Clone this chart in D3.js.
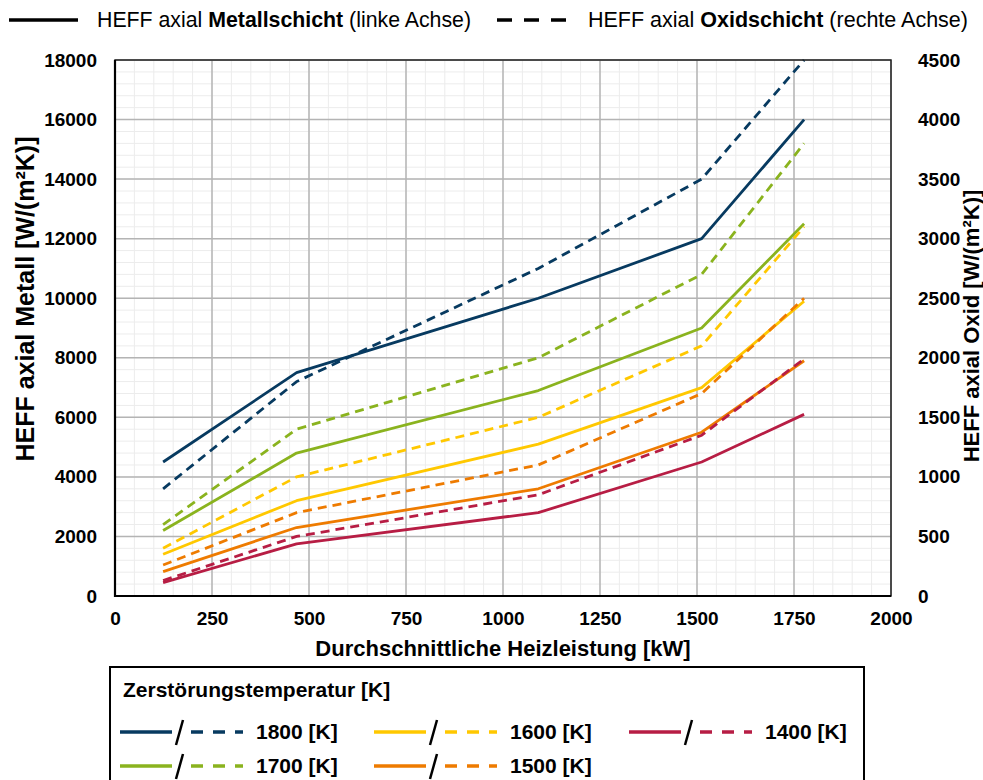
<!DOCTYPE html>
<html><head><meta charset="utf-8">
<script src="https://cdn.jsdelivr.net/npm/d3@7"></script>
<style>
body{margin:0;background:#fff;}
text{font-family:"Liberation Sans",Arial,sans-serif;}
</style></head>
<body><svg id="c" width="983" height="780"></svg>
<script>
// ---- data ----
const heizleistung = [124, 468, 1091, 1512, 1776];
const temperaturen = ["1800 [K]", "1700 [K]", "1600 [K]", "1500 [K]", "1400 [K]"];
const farben = ["#073a60", "#8ab31e", "#ffc800", "#ee7b00", "#b71d44"];
const metall1800 = [4500, 7500, 10000, 12000, 16000];
const metall1700 = [2200, 4800, 6900, 9000, 12500];
const metall1600 = [1400, 3200, 5100, 7000, 9900];
const metall1500 = [820, 2300, 3600, 5500, 7900];
const metall1400 = [450, 1750, 2800, 4500, 6100];
const oxid1800 = [900, 1800, 2750, 3500, 4500];
const oxid1700 = [600, 1400, 2000, 2700, 3800];
const oxid1600 = [400, 1000, 1500, 2100, 3100];
const oxid1500 = [260, 700, 1100, 1700, 2500];
const oxid1400 = [130, 500, 850, 1350, 1990];
const xTicks = [0, 250, 500, 750, 1000, 1250, 1500, 1750, 2000];
const yLeftTicks = [0, 2000, 4000, 6000, 8000, 10000, 12000, 14000, 16000, 18000];
const yRightTicks = [0, 500, 1000, 1500, 2000, 2500, 3000, 3500, 4000, 4500];

const metall = [metall1800, metall1700, metall1600, metall1500, metall1400];
const oxid = [oxid1800, oxid1700, oxid1600, oxid1500, oxid1400];

// ---- layout ----
const L = 115, R = 891, T = 60, B = 596;
const svg = d3.select("#c");
const x = d3.scaleLinear().domain([0, 2000]).range([L, R]);
const yL = d3.scaleLinear().domain([0, 18000]).range([B, T]);
const yR = d3.scaleLinear().domain([0, 4500]).range([B, T]);

// minor grid
const g = svg.append("g");
g.selectAll(".mx").data(d3.range(0, 2001, 50)).join("line")
  .attr("x1", d => x(d)).attr("x2", d => x(d)).attr("y1", T).attr("y2", B)
  .attr("stroke", "#ececec").attr("stroke-width", 1);
g.selectAll(".my").data(d3.range(0, 18001, 400)).join("line")
  .attr("y1", d => yL(d)).attr("y2", d => yL(d)).attr("x1", L).attr("x2", R)
  .attr("stroke", "#ececec").attr("stroke-width", 1);
// major grid
g.selectAll(".Mx").data(xTicks).join("line")
  .attr("x1", d => x(d)).attr("x2", d => x(d)).attr("y1", T).attr("y2", B)
  .attr("stroke", "#b4b4b4").attr("stroke-width", 1.5);
g.selectAll(".My").data(yLeftTicks).join("line")
  .attr("y1", d => yL(d)).attr("y2", d => yL(d)).attr("x1", L).attr("x2", R)
  .attr("stroke", "#b4b4b4").attr("stroke-width", 1.5);

// lines
const lineM = (vals) => d3.line().x((d, i) => x(heizleistung[i])).y(d => yL(d))(vals);
const lineO = (vals) => d3.line().x((d, i) => x(heizleistung[i])).y(d => yR(d))(vals);
metall.forEach((s, k) => {
  svg.append("path").attr("d", lineM(s)).attr("fill", "none")
    .attr("stroke", farben[k]).attr("stroke-width", 2.8).attr("stroke-linejoin", "round");
});
oxid.forEach((s, k) => {
  svg.append("path").attr("d", lineO(s)).attr("fill", "none")
    .attr("stroke", farben[k]).attr("stroke-width", 2.8).attr("stroke-dasharray", "9,6");
});

// border
svg.append("rect").attr("x", L).attr("y", T).attr("width", R - L).attr("height", B - T)
  .attr("fill", "none").attr("stroke", "#222").attr("stroke-width", 1.5);
svg.append("line").attr("x1", L).attr("x2", L).attr("y1", T).attr("y2", B + 1).attr("stroke", "#000").attr("stroke-width", 2.2);
svg.append("line").attr("x1", L - 1).attr("x2", R).attr("y1", B).attr("y2", B).attr("stroke", "#000").attr("stroke-width", 2.2);

// axes (tick labels)
const fs = 19;
const axB = svg.append("g").attr("transform", `translate(0,${B})`)
  .call(d3.axisBottom(x).tickValues(xTicks).tickSize(0).tickPadding(16).tickFormat(d3.format("d")));
const axL = svg.append("g").attr("transform", `translate(${L},0)`)
  .call(d3.axisLeft(yL).tickValues(yLeftTicks).tickSize(0).tickPadding(18).tickFormat(d3.format("d")));
const axR = svg.append("g").attr("transform", `translate(${R},0)`)
  .call(d3.axisRight(yR).tickValues(yRightTicks).tickSize(0).tickPadding(27).tickFormat(d3.format("d")));
[axB, axL, axR].forEach(a => {
  a.select(".domain").remove();
  a.selectAll("text").attr("font-size", fs).attr("font-weight", "bold").attr("fill", "#000")
    .attr("font-family", "Liberation Sans, Arial, sans-serif");
});

// axis titles
svg.append("text").attr("x", (L + R) / 2).attr("y", 656).attr("text-anchor", "middle")
  .attr("font-size", 22).attr("font-weight", "bold").text("Durchschnittliche Heizleistung [kW]");
svg.append("text").attr("transform", `translate(34,299) rotate(-90)`).attr("text-anchor", "middle")
  .attr("font-size", 25).attr("font-weight", "bold").text("HEFF axial Metall [W/(m²K)]");
svg.append("text").attr("transform", `translate(979,326) rotate(-90)`).attr("text-anchor", "middle")
  .attr("font-size", 22).attr("font-weight", "bold").text("HEFF axial Oxid [W/(m²K)]");

// top legend
svg.append("line").attr("x1", 9).attr("x2", 78).attr("y1", 20).attr("y2", 20).attr("stroke", "#000").attr("stroke-width", 3.5);
const t1 = svg.append("text").attr("x", 97).attr("y", 27).attr("font-size", 21.3);
t1.append("tspan").text("HEFF axial ");
t1.append("tspan").attr("font-weight", "bold").text("Metallschicht");
t1.append("tspan").text(" (linke Achse)");
svg.append("line").attr("x1", 497).attr("x2", 566).attr("y1", 20).attr("y2", 20).attr("stroke", "#000").attr("stroke-width", 3.5).attr("stroke-dasharray", "15,12");
const t2 = svg.append("text").attr("x", 588).attr("y", 27).attr("font-size", 21.5);
t2.append("tspan").text("HEFF axial ");
t2.append("tspan").attr("font-weight", "bold").text("Oxidschicht");
t2.append("tspan").text(" (rechte Achse)");

// bottom legend
svg.append("rect").attr("x", 110).attr("y", 667).attr("width", 754).attr("height", 130)
  .attr("fill", "#fff").attr("stroke", "#000").attr("stroke-width", 2);
svg.append("text").attr("x", 123).attr("y", 697).attr("font-size", 21).attr("font-weight", "bold").text("Zerstörungstemperatur [K]");
const colX = [120, 374, 629];
const rowY = [732, 766];
temperaturen.forEach((t, k) => {
  const cx = colX[k % 3] , cy = rowY[Math.floor(k / 3)];
  const col = k < 3 ? [0, 2, 4][k] : [1, 3][k - 3];
  const c = farben[col], label = temperaturen[col];
  const eg = svg.append("g");
  eg.append("line").attr("x1", cx).attr("x2", cx + 52).attr("y1", cy).attr("y2", cy).attr("stroke", c).attr("stroke-width", 3.5);
  eg.append("line").attr("x1", cx + 63).attr("x2", cx + 56).attr("y1", cy - 12).attr("y2", cy + 13).attr("stroke", "#000").attr("stroke-width", 2.5);
  eg.append("line").attr("x1", cx + 71).attr("x2", cx + 123).attr("y1", cy).attr("y2", cy).attr("stroke", c).attr("stroke-width", 3.5).attr("stroke-dasharray", "12,10");
  eg.append("text").attr("x", cx + 136).attr("y", cy + 7).attr("font-size", 21).attr("font-weight", "bold").text(label);
});
</script></body></html>
